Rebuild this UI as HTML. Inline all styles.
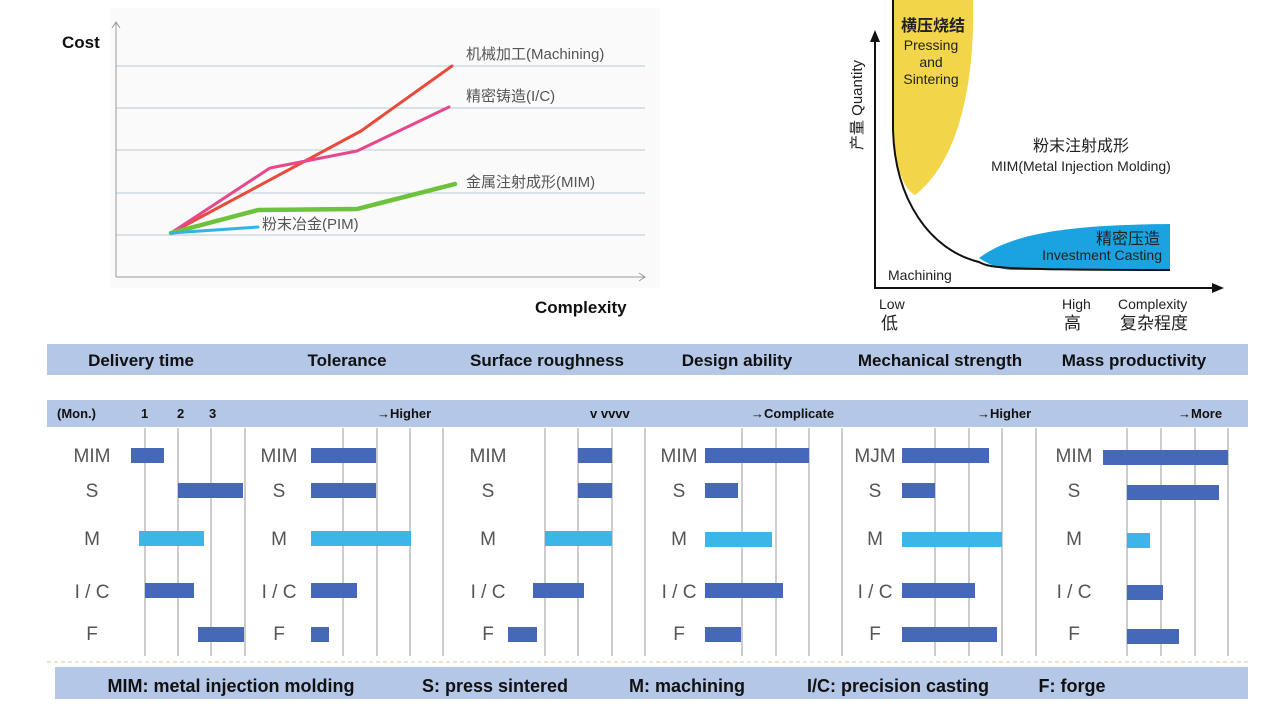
<!DOCTYPE html>
<html><head><meta charset="utf-8"><style>
html,body{margin:0;padding:0;background:#fff;}
svg{display:block;}
.b{font-family:"Liberation Sans","Noto Sans CJK SC",sans-serif;font-weight:bold;fill:#111;}
.g{font-family:"Liberation Sans","Noto Sans CJK SC",sans-serif;fill:#555;}
.k{font-family:"Liberation Sans","Noto Sans CJK SC",sans-serif;fill:#222;}
</style></head><body>
<svg width="1280" height="720" viewBox="0 0 1280 720" xmlns="http://www.w3.org/2000/svg">
<rect width="1280" height="720" fill="#fff"/>
<!-- top-left chart -->
<rect x="110" y="8" width="550" height="280" fill="#fafafa"/>
<g stroke="#b9c9d6" stroke-width="1">
<line x1="116" y1="66" x2="645" y2="66"/><line x1="116" y1="108" x2="645" y2="108"/>
<line x1="116" y1="150" x2="645" y2="150"/><line x1="116" y1="193" x2="645" y2="193"/>
<line x1="116" y1="235" x2="645" y2="235"/>
</g>
<g stroke="#999" stroke-width="1" fill="none">
<line x1="116" y1="22" x2="116" y2="277"/><polyline points="112,28 116,22 120,28"/>
<line x1="116" y1="277" x2="645" y2="277"/><polyline points="639,273 645,277 639,281"/>
</g>
<g fill="none" stroke-width="3.5" stroke-linejoin="round" stroke-linecap="round">
<polyline stroke="#e84a3c" stroke-width="3" points="171,233 361,131 452,66"/>
<polyline stroke="#e8478a" stroke-width="3" points="171,233 270,168 357,151 449,107"/>
<polyline stroke="#6cc23c" stroke-width="4.5" points="171,233 258,210 357,209 455,184"/>
<polyline stroke="#30b4e6" stroke-width="3" points="171,233 258,227"/>
</g>
<g class="g" font-size="15">
<text x="466" y="59">机械加工(Machining)</text>
<text x="466" y="101">精密铸造(I/C)</text>
<text x="466" y="187">金属注射成形(MIM)</text>
<text x="262" y="229">粉末冶金(PIM)</text>
</g>
<text class="b" x="62" y="48" font-size="17">Cost</text>
<text class="b" x="535" y="313" font-size="17">Complexity</text>

<!-- top-right chart -->
<path d="M893,0 L973,0 C975,80 960,160 915,195 C905,190 895,170 893,130 Z" fill="#f2d548"/>
<path d="M979,258 C1010,235 1060,225 1170,224 L1170,269 L1010,270 C1000,269 990,265 979,258 Z" fill="#1aa3e0"/>
<path d="M893,0 L893,130 C895,200 930,250 979,262 C990,268 1000,270 1170,270" fill="none" stroke="#111" stroke-width="2"/>
<g stroke="#111" stroke-width="2"><line x1="875" y1="40" x2="875" y2="289"/><line x1="874" y1="288" x2="1214" y2="288"/></g>
<polygon points="870,42 875,30 880,42" fill="#111"/><polygon points="1212,283 1224,288 1212,293" fill="#111"/>
<g class="k" text-anchor="middle">
<text x="933" y="31" font-size="16" font-weight="bold">横压烧结</text>
<text x="931" y="50" font-size="14">Pressing</text>
<text x="931" y="67" font-size="14">and</text>
<text x="931" y="84" font-size="14">Sintering</text>
<text x="1081" y="151" font-size="16">粉末注射成形</text>
<text x="1081" y="171" font-size="14">MIM(Metal Injection Molding)</text>
</g>
<g class="k" text-anchor="end">
<text x="1160" y="244" font-size="16">精密压造</text>
<text x="1162" y="260" font-size="14">Investment Casting</text>
</g>
<g class="k" font-size="14">
<text x="888" y="280">Machining</text>
<text x="879" y="309">Low</text><text x="881" y="329" font-size="17">低</text>
<text x="1062" y="309">High</text><text x="1064" y="329" font-size="17">高</text>
<text x="1118" y="309">Complexity</text><text x="1120" y="329" font-size="17">复杂程度</text>
</g>
<text class="k" font-size="15" transform="translate(862,105) rotate(-90)" text-anchor="middle">产量 Quantity</text>

<!-- top band -->
<rect x="47" y="344" width="1201" height="31" fill="#b4c7e7"/>
<g class="b" font-size="17" text-anchor="middle">
<text x="141" y="366">Delivery time</text><text x="347" y="366">Tolerance</text>
<text x="547" y="366">Surface roughness</text><text x="737" y="366">Design ability</text>
<text x="940" y="366">Mechanical strength</text><text x="1134" y="366">Mass productivity</text>
</g>
<!-- header band -->
<rect x="47" y="400" width="1201" height="27" fill="#b4c7e7"/>
<g class="b" font-size="13">
<text x="57" y="418">(Mon.)</text><text x="141" y="418">1</text><text x="177" y="418">2</text><text x="209" y="418">3</text>
<text x="377" y="418">→Higher</text><text x="590" y="418">v vvvv</text><text x="751" y="418">→Complicate</text>
<text x="977" y="418">→Higher</text><text x="1178" y="418">→More</text>
</g>
<!-- grid lines -->
<g stroke="#999" stroke-width="1">
<line x1="145" y1="428" x2="145" y2="656"/><line x1="178" y1="428" x2="178" y2="656"/><line x1="211" y1="428" x2="211" y2="656"/><line x1="245" y1="428" x2="245" y2="656"/>
<line x1="343" y1="428" x2="343" y2="656"/><line x1="377" y1="428" x2="377" y2="656"/><line x1="410" y1="428" x2="410" y2="656"/><line x1="443" y1="428" x2="443" y2="656"/>
<line x1="545" y1="428" x2="545" y2="656"/><line x1="578" y1="428" x2="578" y2="656"/><line x1="612" y1="428" x2="612" y2="656"/><line x1="645" y1="428" x2="645" y2="656"/>
<line x1="742" y1="428" x2="742" y2="656"/><line x1="776" y1="428" x2="776" y2="656"/><line x1="809" y1="428" x2="809" y2="656"/><line x1="842" y1="428" x2="842" y2="656"/>
<line x1="935" y1="428" x2="935" y2="656"/><line x1="969" y1="428" x2="969" y2="656"/><line x1="1002" y1="428" x2="1002" y2="656"/><line x1="1036" y1="428" x2="1036" y2="656"/>
<line x1="1127" y1="428" x2="1127" y2="656"/><line x1="1161" y1="428" x2="1161" y2="656"/><line x1="1195" y1="428" x2="1195" y2="656"/><line x1="1228" y1="428" x2="1228" y2="656"/>
</g>
<line x1="47" y1="662" x2="1248" y2="662" stroke="#d9c7a0" stroke-width="1" stroke-dasharray="4,3"/>
<!-- row labels -->
<g class="g" font-size="19" text-anchor="middle">
<text x="92" y="462">MIM</text><text x="92" y="497">S</text><text x="92" y="545">M</text><text x="92" y="598">I / C</text><text x="92" y="640">F</text>
<text x="279" y="462">MIM</text><text x="279" y="497">S</text><text x="279" y="545">M</text><text x="279" y="598">I / C</text><text x="279" y="640">F</text>
<text x="488" y="462">MIM</text><text x="488" y="497">S</text><text x="488" y="545">M</text><text x="488" y="598">I / C</text><text x="488" y="640">F</text>
<text x="679" y="462">MIM</text><text x="679" y="497">S</text><text x="679" y="545">M</text><text x="679" y="598">I / C</text><text x="679" y="640">F</text>
<text x="875" y="462">MJM</text><text x="875" y="497">S</text><text x="875" y="545">M</text><text x="875" y="598">I / C</text><text x="875" y="640">F</text>
<text x="1074" y="462">MIM</text><text x="1074" y="497">S</text><text x="1074" y="545">M</text><text x="1074" y="598">I / C</text><text x="1074" y="640">F</text>
</g>
<!-- bars -->
<g fill="#4568b9">
<rect x="131" y="448" width="33" height="15"/><rect x="178" y="483" width="65" height="15"/><rect x="145" y="583" width="49" height="15"/><rect x="198" y="627" width="46" height="15"/>
<rect x="311" y="448" width="65" height="15"/><rect x="311" y="483" width="65" height="15"/><rect x="311" y="583" width="46" height="15"/><rect x="311" y="627" width="18" height="15"/>
<rect x="578" y="448" width="34" height="15"/><rect x="578" y="483" width="34" height="15"/><rect x="533" y="583" width="51" height="15"/><rect x="508" y="627" width="29" height="15"/>
<rect x="705" y="448" width="104" height="15"/><rect x="705" y="483" width="33" height="15"/><rect x="705" y="583" width="78" height="15"/><rect x="705" y="627" width="36" height="15"/>
<rect x="902" y="448" width="87" height="15"/><rect x="902" y="483" width="33" height="15"/><rect x="902" y="583" width="73" height="15"/><rect x="902" y="627" width="95" height="15"/>
<rect x="1103" y="450" width="125" height="15"/><rect x="1127" y="485" width="92" height="15"/><rect x="1127" y="585" width="36" height="15"/><rect x="1127" y="629" width="52" height="15"/>
</g>
<g fill="#3cb6e8">
<rect x="139" y="531" width="65" height="15"/><rect x="311" y="531" width="100" height="15"/><rect x="545" y="531" width="67" height="15"/>
<rect x="705" y="532" width="67" height="15"/><rect x="902" y="532" width="100" height="15"/><rect x="1127" y="533" width="23" height="15"/>
</g>
<!-- bottom legend -->
<rect x="55" y="667" width="1193" height="32" fill="#b4c7e7"/>
<g class="b" font-size="18" text-anchor="middle">
<text x="231" y="692">MIM: metal injection molding</text><text x="495" y="692">S: press sintered</text>
<text x="687" y="692">M: machining</text><text x="898" y="692">I/C: precision casting</text><text x="1072" y="692">F: forge</text>
</g>
</svg>
</body></html>
